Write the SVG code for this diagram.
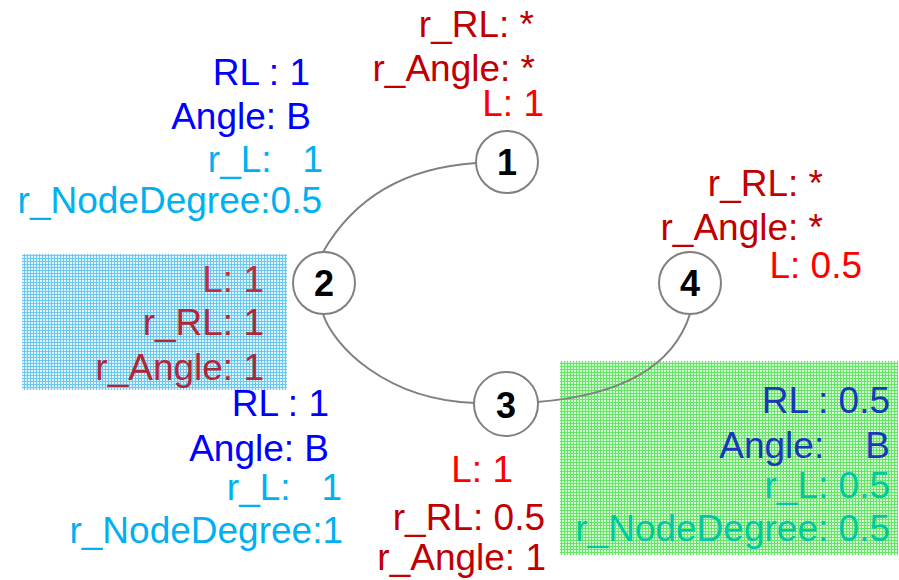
<svg xmlns="http://www.w3.org/2000/svg" width="899" height="580" viewBox="0 0 899 580">
  <defs>
    <!-- fine grid textures for the two highlight panels -->
    <pattern id="gridBlue" width="3" height="3" patternUnits="userSpaceOnUse">
      <rect width="3" height="3" fill="#dff3fc"/>
      <rect width="3" height="1" fill="#6cc8ef"/>
      <rect width="1" height="3" fill="#6cc8ef"/>
    </pattern>
    <pattern id="gridGreen" width="3" height="3" patternUnits="userSpaceOnUse">
      <rect width="3" height="3" fill="#d4fcd4"/>
      <rect width="3" height="1" fill="#66e666"/>
      <rect width="1" height="3" fill="#66e666"/>
    </pattern>
  </defs>
  <style>
    text { font-family: "Liberation Sans", Arial, sans-serif; font-size: 37px; text-anchor: end; }
    .node circle { fill: #ffffff; stroke: #808080; stroke-width: 2; }
    .node text { font-size: 36px; font-weight: bold; fill: #000000; text-anchor: middle; }
    .edges path { fill: none; stroke: #808080; stroke-width: 2; }
    .blue { fill: #0000ff; }
    .cyan { fill: #00b0f0; }
    .dred { fill: #c00000; }
    .red { fill: #ff0000; }
    .boxred { fill: #b02838; }
    .boxred2 { fill: #c42c3c; }
    .navy { fill: #1838b8; }
    .teal { fill: #00c8a0; }
  </style>

  <rect width="899" height="580" fill="#ffffff"/>

  <!-- highlight panels -->
  <rect x="22" y="254" width="265" height="136" fill="url(#gridBlue)"/>
  <rect x="560" y="361" width="338" height="194" fill="url(#gridGreen)"/>

  <!-- connectors -->
  <g id="edges" class="edges">
    <path d="M476,163 Q370,170 323,252"/>
    <path d="M323,314 C333,345 385,400 475,403"/>
    <path d="M537,402 Q665,392 690,314"/>
  </g>

  <!-- nodes -->
  <g id="node1" class="node">
    <circle cx="507" cy="162" r="31"/>
    <text x="507" y="175">1</text>
  </g>
  <g id="node2" class="node">
    <circle cx="324" cy="283" r="31"/>
    <text x="324" y="296">2</text>
  </g>
  <g id="node3" class="node">
    <circle cx="506" cy="404" r="32"/>
    <text x="506" y="418">3</text>
  </g>
  <g id="node4" class="node">
    <circle cx="690" cy="283" r="31"/>
    <text x="690" y="296">4</text>
  </g>

  <!-- attributes of node 1 -->
  <g id="label-node1">
    <text class="dred" x="534" y="37">r_RL: *</text>
    <text class="dred" x="535" y="81">r_Angle: *</text>
    <text class="red" x="544" y="116">L: 1</text>
  </g>

  <!-- attributes of edge 1-2 -->
  <g id="label-edge12">
    <text class="blue" x="310" y="85">RL : 1</text>
    <text class="blue" x="311" y="129">Angle: B</text>
    <text class="cyan" x="323" y="172">r_L:&#160;&#160;&#160;1</text>
    <text class="cyan" x="322" y="213">r_NodeDegree:0.5</text>
  </g>

  <!-- attributes of node 2 -->
  <g id="label-node2">
    <text class="boxred2" x="264" y="292">L: 1</text>
    <text class="boxred" x="264" y="335">r_RL: 1</text>
    <text class="boxred" x="264" y="380">r_Angle: 1</text>
  </g>

  <!-- attributes of edge 2-3 -->
  <g id="label-edge23">
    <text class="blue" x="329" y="416">RL : 1</text>
    <text class="blue" x="329" y="461">Angle: B</text>
    <text class="cyan" x="342" y="500">r_L:&#160;&#160;&#160;1</text>
    <text class="cyan" x="343" y="543">r_NodeDegree:1</text>
  </g>

  <!-- attributes of node 3 -->
  <g id="label-node3">
    <text class="red" x="513" y="482">L: 1</text>
    <text class="dred" x="545" y="530">r_RL: 0.5</text>
    <text class="dred" x="546" y="570">r_Angle: 1</text>
  </g>

  <!-- attributes of node 4 -->
  <g id="label-node4">
    <text class="dred" x="823" y="196">r_RL: *</text>
    <text class="dred" x="823" y="240">r_Angle: *</text>
    <text class="red" x="862" y="278">L: 0.5</text>
  </g>

  <!-- attributes of edge 3-4 -->
  <g id="label-edge34">
    <text class="navy" x="890" y="413">RL : 0.5</text>
    <text class="navy" x="890" y="458">Angle:&#160;&#160;&#160;&#160;B</text>
    <text class="teal" x="890" y="498">r_L: 0.5</text>
    <text class="teal" x="890" y="541">r_NodeDegree: 0.5</text>
  </g>
</svg>
